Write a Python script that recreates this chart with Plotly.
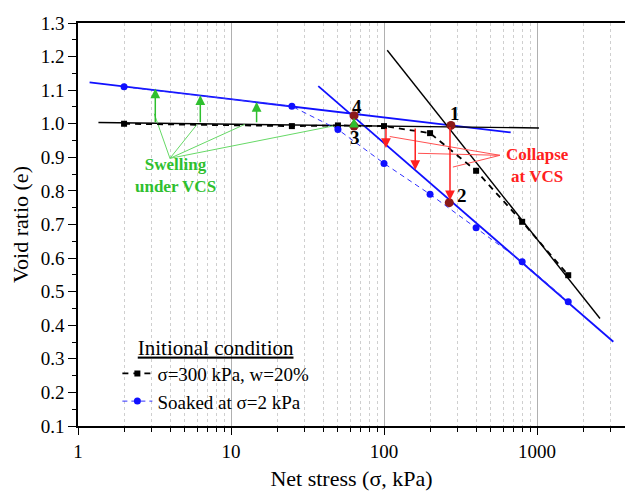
import numpy as np
import plotly.graph_objects as go

# ---------------- data ----------------
stress = [2, 25, 50, 100, 200, 400, 800, 1600]
e_300kpa_w20 = [1.000, 0.993, 0.995, 0.993, 0.972, 0.860, 0.708, 0.549]
e_soaked_2kpa = [1.110, 1.052, 0.983, 0.882, 0.790, 0.690, 0.589, 0.470]

# fitted lines (end points)
swell_line_x = [1.19, 673]
swell_line_y = [1.123, 0.974]
flat_line_x = [1.36, 1030]
flat_line_y = [1.0035, 0.9875]
ncl_soaked_x = [37.2, 3155]
ncl_soaked_y = [1.112, 0.351]
ncl_w20_x = [105, 2581]
ncl_w20_y = [1.219, 0.420]

# key points 1-4
key_labels = ["1", "2", "3", "4"]
key_x = [274, 267, 63.7, 63.7]
key_y = [0.995, 0.765, 0.993, 1.024]
key_label_x = [291, 324, 64.5, 66.7]
key_label_y = [1.031, 0.787, 0.960, 1.052]

# swelling arrows (green)
swell_arrow_x = [3.2, 6.3, 14.7, 63.7]
swell_arrow_from = [1.0, 1.0, 1.0, 0.995]
swell_arrow_to = [1.105, 1.085, 1.065, 1.018]

# collapse arrows (red)
collapse_arrow_x = [103, 160, 270]
collapse_arrow_from = [0.990, 0.990, 0.995]
collapse_arrow_to = [0.928, 0.862, 0.772]

# pointer lines
swell_ptr_origin = (3.99, 0.897)
swell_ptr_x = [3.15, 6.0, 12.3, 48.5]
swell_ptr_y = [1.030, 0.998, 0.998, 0.995]
collapse_ptr_origin = (573, 0.906)
collapse_ptr_x = [109, 167, 282]
collapse_ptr_y = [0.962, 0.912, 0.871]

FONT = "Liberation Serif"
GREEN = "#2fbf2f"
GREEN_L = "#66d966"
RED = "#ff2020"
RED_L = "#ff5050"
DARKRED = "#8b1a1a"

fig = go.Figure()

# fitted lines
fig.add_trace(go.Scatter(x=swell_line_x, y=swell_line_y, mode="lines",
                         line=dict(color="#1010ff", width=1.8), showlegend=False))
fig.add_trace(go.Scatter(x=ncl_soaked_x, y=ncl_soaked_y, mode="lines",
                         line=dict(color="#1010ff", width=1.8), showlegend=False))
fig.add_trace(go.Scatter(x=flat_line_x, y=flat_line_y, mode="lines",
                         line=dict(color="black", width=1.4), showlegend=False))
fig.add_trace(go.Scatter(x=ncl_w20_x, y=ncl_w20_y, mode="lines",
                         line=dict(color="black", width=1.4), showlegend=False))

# pointer lines
for px, py in zip(swell_ptr_x, swell_ptr_y):
    fig.add_trace(go.Scatter(x=[swell_ptr_origin[0], px], y=[swell_ptr_origin[1], py],
                             mode="lines", line=dict(color=GREEN_L, width=1),
                             showlegend=False))
for px, py in zip(collapse_ptr_x, collapse_ptr_y):
    fig.add_trace(go.Scatter(x=[collapse_ptr_origin[0], px], y=[collapse_ptr_origin[1], py],
                             mode="lines", line=dict(color=RED_L, width=1),
                             showlegend=False))

# measured series
fig.add_trace(go.Scatter(x=stress, y=e_300kpa_w20, mode="lines+markers",
                         name="σ=300 kPa, w=20%",
                         line=dict(color="black", width=1.8, dash="6px,5px"),
                         marker=dict(symbol="square", size=6, color="black")))
fig.add_trace(go.Scatter(x=stress, y=e_soaked_2kpa, mode="lines+markers",
                         name="Soaked at σ=2 kPa",
                         line=dict(color="#3030ff", width=1, dash="5px,4px"),
                         marker=dict(symbol="circle", size=7, color="#1010ff")))

# key points
fig.add_trace(go.Scatter(x=key_x, y=key_y, mode="markers",
                         marker=dict(size=9, color=DARKRED), showlegend=False))

ann = []
for x, y0, y1 in zip(swell_arrow_x, swell_arrow_from, swell_arrow_to):
    ann.append(dict(x=np.log10(x), y=y1, ax=np.log10(x), ay=y0, xref="x", yref="y",
                    axref="x", ayref="y", text="", showarrow=True, arrowhead=2,
                    arrowsize=1.3, arrowwidth=1.5, arrowcolor=GREEN, standoff=0))
for x, y0, y1 in zip(collapse_arrow_x, collapse_arrow_from, collapse_arrow_to):
    ann.append(dict(x=np.log10(x), y=y1, ax=np.log10(x), ay=y0, xref="x", yref="y",
                    axref="x", ayref="y", text="", showarrow=True, arrowhead=2,
                    arrowsize=1.3, arrowwidth=1.5, arrowcolor=RED, standoff=0))
for t, x, y in zip(key_labels, key_label_x, key_label_y):
    ann.append(dict(x=np.log10(x), y=y, xref="x", yref="y", text="<b>%s</b>" % t,
                    showarrow=False, font=dict(family=FONT, size=19, color="black")))
ann.append(dict(x=np.log10(4.37), y=0.845, xref="x", yref="y",
                text="<b>Swelling<br>under VCS</b>", showarrow=False,
                font=dict(family=FONT, size=17, color=GREEN)))
ann.append(dict(x=np.log10(1015), y=0.876, xref="x", yref="y",
                text="<b>Collapse<br>at VCS</b>", showarrow=False,
                font=dict(family=FONT, size=17, color=RED)))

shapes = [
    dict(type="rect", xref="paper", yref="paper", x0=0, x1=0.305, y0=0, y1=0.238,
         fillcolor="white", line=dict(width=0), layer="between"),
    dict(type="rect", xref="paper", yref="paper", x0=0.2, x1=0.488, y0=0, y1=0.188,
         fillcolor="white", line=dict(width=0), layer="between"),
]

fig.update_layout(
    width=625, height=494,
    margin=dict(l=78, r=0, t=23, b=68),
    plot_bgcolor="white", paper_bgcolor="white",
    font=dict(family=FONT, size=19, color="black"),
    annotations=ann, shapes=shapes,
    showlegend=True,
    legend=dict(x=0.072, y=0.245, xanchor="left", yanchor="top",
                bgcolor="rgba(0,0,0,0)",
                font=dict(family=FONT, size=19),
                title=dict(text="<u>Initional condition</u>", side="top center",
                           font=dict(family=FONT, size=21)),
                itemwidth=30, tracegroupgap=0),
    xaxis=dict(type="log", range=[0, np.log10(3760)],
               tickvals=[1, 10, 100, 1000], ticktext=["1", "10", "100", "1000"],
               ticks="outside", ticklen=7, tickwidth=1.3, tickcolor="black",
               showline=True, linecolor="black", linewidth=1.5, mirror=True,
               showgrid=True, gridcolor="#b0b0b0", gridwidth=1,
               tickfont=dict(family=FONT, size=19),
               minor=dict(ticks="outside", ticklen=4, tickcolor="black", dtick="D1",
                          showgrid=True, gridcolor="#cfcfcf", griddash="dot", gridwidth=1),
               title=dict(text="Net stress (σ, kPa)", font=dict(family=FONT, size=22),
                          standoff=10),
               zeroline=False),
    yaxis=dict(range=[0.1, 1.3], dtick=0.1, tick0=0.1, tickformat=".1f",
               ticks="outside", ticklen=8, tickwidth=1.3, tickcolor="black",
               showline=True, linecolor="black", linewidth=1.5, mirror=False,
               showgrid=False, zeroline=False,
               tickfont=dict(family=FONT, size=19),
               minor=dict(ticks="outside", ticklen=4, dtick=0.05, tickcolor="black"),
               title=dict(text="Void ratio (e)", font=dict(family=FONT, size=22),
                          standoff=6)),
)

fig.write_html("out.html")
